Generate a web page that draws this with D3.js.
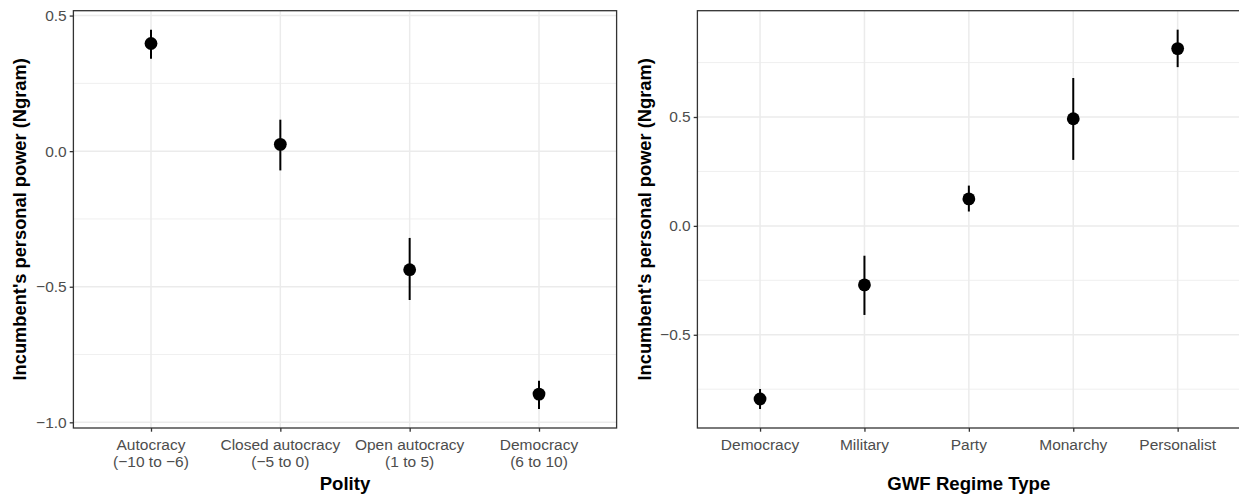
<!DOCTYPE html>
<html>
<head>
<meta charset="utf-8">
<script src="https://cdn.jsdelivr.net/npm/d3@7"></script>
<style>
  body { margin: 0; background: #fff; }
  text { font-family: "Liberation Sans", Arial, sans-serif; }
</style>
</head>
<body>
<svg id="chart" width="1239" height="497"></svg>
<script>
// left panel: Polity categories
var polityCats = [["Autocracy", "(\u221210 to \u22126)"], ["Closed autocracy", "(\u22125 to 0)"], ["Open autocracy", "(1 to 5)"], ["Democracy", "(6 to 10)"]];
var polityEst = [0.397, 0.025, -0.437, -0.896];
var polityLo = [0.341, -0.071, -0.549, -0.951];
var polityHi = [0.448, 0.116, -0.320, -0.847];
var polityTicks = [-1.0, -0.5, 0.0, 0.5];
var polityMinor = [-0.75, -0.25, 0.25];

// right panel: GWF regime types
var gwfCats = [["Democracy"], ["Military"], ["Party"], ["Monarchy"], ["Personalist"]];
var gwfEst = [-0.795, -0.271, 0.124, 0.492, 0.814];
var gwfLo = [-0.841, -0.409, 0.066, 0.303, 0.729];
var gwfHi = [-0.749, -0.137, 0.185, 0.679, 0.901];
var gwfTicks = [-0.5, 0.0, 0.5];
var gwfMinor = [-0.75, -0.25, 0.25, 0.75];

var yTitle = "Incumbent's personal power (Ngram)";

var svg = d3.select("#chart");
svg.append("rect").attr("width", 1239).attr("height", 497).attr("fill", "#fff");

drawPanel({
  x0: 73.4, x1: 616.6, y0: 10.7, y1: 428,
  cats: polityCats, est: polityEst, lo: polityLo, hi: polityHi,
  ticks: polityTicks, minor: polityMinor,
  xTitle: "Polity", yTitleX: 19.5
});
drawPanel({
  x0: 697.4, x1: 1240.3, y0: 10.7, y1: 428,
  cats: gwfCats, est: gwfEst, lo: gwfLo, hi: gwfHi,
  ticks: gwfTicks, minor: gwfMinor,
  xTitle: "GWF Regime Type", yTitleX: 645
});

function drawPanel(o) {
  var idx = d3.range(o.cats.length);
  var x = d3.scalePoint()
    .domain(idx)
    .range([o.x0, o.x1])
    .padding(0.6);

  var lo = d3.min(o.lo), hi = d3.max(o.hi), pad = (hi - lo) * 0.05;
  var y = d3.scaleLinear()
    .domain([lo - pad, hi + pad])
    .range([o.y1, o.y0]);

  var g = svg.append("g");

  // grid
  g.selectAll(".minor").data(o.minor).enter().append("line")
    .attr("x1", o.x0).attr("x2", o.x1)
    .attr("y1", function(d) { return y(d); })
    .attr("y2", function(d) { return y(d); })
    .attr("stroke", "#ebebeb").attr("stroke-width", 0.8);
  g.selectAll(".major").data(o.ticks).enter().append("line")
    .attr("x1", o.x0).attr("x2", o.x1)
    .attr("y1", function(d) { return y(d); })
    .attr("y2", function(d) { return y(d); })
    .attr("stroke", "#ebebeb").attr("stroke-width", 1.5);
  g.selectAll(".vgrid").data(idx).enter().append("line")
    .attr("x1", function(d) { return x(d); })
    .attr("x2", function(d) { return x(d); })
    .attr("y1", o.y0).attr("y2", o.y1)
    .attr("stroke", "#ebebeb").attr("stroke-width", 1.5);

  // error bars + points
  g.selectAll(".err").data(idx).enter().append("line")
    .attr("x1", function(d) { return x(d); })
    .attr("x2", function(d) { return x(d); })
    .attr("y1", function(d) { return y(o.lo[d]); })
    .attr("y2", function(d) { return y(o.hi[d]); })
    .attr("stroke", "#000").attr("stroke-width", 2);
  g.selectAll(".pt").data(idx).enter().append("circle")
    .attr("cx", function(d) { return x(d); })
    .attr("cy", function(d) { return y(o.est[d]); })
    .attr("r", 6.4)
    .attr("fill", "#000");

  // border
  g.append("rect")
    .attr("x", o.x0).attr("y", o.y0)
    .attr("width", o.x1 - o.x0).attr("height", o.y1 - o.y0)
    .attr("fill", "none").attr("stroke", "#333").attr("stroke-width", 1.3);

  // y axis
  var yAxis = d3.axisLeft(y)
    .tickValues(o.ticks)
    .tickFormat(d3.format(".1f"))
    .tickSize(3.7).tickPadding(3);
  var ya = g.append("g").attr("transform", "translate(" + o.x0 + ",0)").call(yAxis);
  ya.select(".domain").remove();
  ya.selectAll("line").attr("stroke", "#333").attr("stroke-width", 1.3);
  ya.selectAll("text").attr("fill", "#4d4d4d").style("font-size", "15.5px");

  // x axis
  var xAxis = d3.axisBottom(x).tickSize(3.7).tickFormat("");
  var xa = g.append("g").attr("transform", "translate(0," + o.y1 + ")").call(xAxis);
  xa.select(".domain").remove();
  xa.selectAll("line").attr("stroke", "#333").attr("stroke-width", 1.3);

  var lab = g.selectAll(".xlab").data(idx).enter().append("text")
    .attr("text-anchor", "middle")
    .attr("fill", "#4d4d4d")
    .style("font-size", "15.5px");
  lab.each(function(d) {
    var t = d3.select(this);
    o.cats[d].forEach(function(line, i) {
      t.append("tspan")
        .attr("x", x(d))
        .attr("y", 450 + i * 16.5)
        .text(line);
    });
  });

  // titles
  g.append("text")
    .attr("x", (o.x0 + Math.min(o.x1, 1239)) / 2 + (o.x1 > 1239 ? 0.6 : 0))
    .attr("y", 490)
    .attr("text-anchor", "middle")
    .style("font-size", "18.6px").style("font-weight", "bold")
    .text(o.xTitle);
  g.append("text")
    .attr("transform", "translate(" + o.yTitleX + "," + ((o.y0 + o.y1) / 2) + ") rotate(-90)")
    .attr("dy", "0.35em")
    .attr("text-anchor", "middle")
    .style("font-size", "18.3px").style("font-weight", "bold")
    .text(yTitle);
}
</script>
</body>
</html>
